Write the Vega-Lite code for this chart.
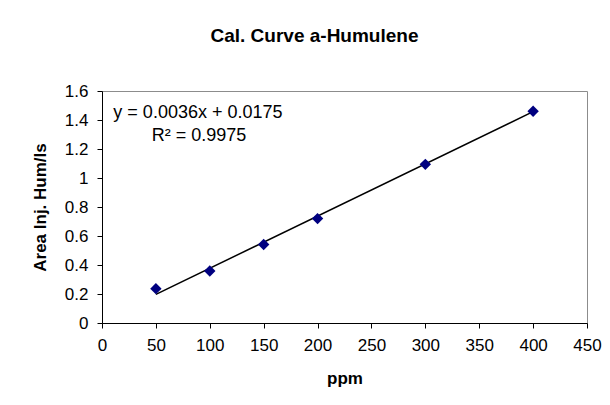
{
  "$schema": "https://vega.github.io/schema/vega-lite/v6.json",
  "width": 485,
  "height": 232,
  "autosize": {"type": "none"},
  "padding": {"left": 102, "top": 91, "right": 23, "bottom": 82},
  "background": "white",
  "title": {
    "text": "Cal. Curve a-Humulene",
    "font": "Liberation Sans",
    "fontSize": 19,
    "fontWeight": "bold",
    "color": "black",
    "anchor": "middle",
    "dx": -30,
    "offset": 36
  },
  "config": {
    "font": "Liberation Sans",
    "view": {"stroke": "#8c8c8c", "strokeWidth": 1},
    "axis": {
      "grid": false,
      "labelFont": "Liberation Sans",
      "labelFontSize": 17,
      "labelColor": "black",
      "labelOverlap": false,
      "titleFont": "Liberation Sans",
      "titleFontSize": 17,
      "titleFontWeight": "bold",
      "titleColor": "black",
      "domainColor": "black",
      "tickColor": "black",
      "tickSize": 5
    }
  },
  "layer": [
    {
      "data": {"values": [
        {"ppm": 50, "fit": 0.1975},
        {"ppm": 400, "fit": 1.4575}
      ]},
      "mark": {"type": "line", "color": "black", "strokeWidth": 1.5},
      "encoding": {
        "x": {
          "field": "ppm", "type": "quantitative",
          "scale": {"domain": [0, 450], "nice": false},
          "axis": {"values": [0, 50, 100, 150, 200, 250, 300, 350, 400, 450], "title": "ppm", "labelPadding": 9, "titlePadding": 17, "labelFlush": false}
        },
        "y": {
          "field": "fit", "type": "quantitative",
          "scale": {"domain": [0, 1.6], "nice": false},
          "axis": {"values": [0, 0.2, 0.4, 0.6, 0.8, 1, 1.2, 1.4, 1.6], "format": "~g", "title": "Area Inj. Hum/Is", "labelPadding": 9, "titlePadding": 15, "labelFlush": false}
        }
      }
    },
    {
      "data": {"values": [
        {"ppm": 50, "area": 0.237},
        {"ppm": 100, "area": 0.359},
        {"ppm": 150, "area": 0.541},
        {"ppm": 200, "area": 0.72},
        {"ppm": 300, "area": 1.094},
        {"ppm": 400, "area": 1.46}
      ]},
      "mark": {"type": "point", "shape": "diamond", "filled": true, "color": "#000080", "size": 130, "opacity": 1},
      "encoding": {
        "x": {
          "field": "ppm", "type": "quantitative",
          "axis": {"values": [0, 50, 100, 150, 200, 250, 300, 350, 400, 450], "title": "ppm", "labelPadding": 9, "titlePadding": 17, "labelFlush": false}
        },
        "y": {
          "field": "area", "type": "quantitative",
          "axis": {"values": [0, 0.2, 0.4, 0.6, 0.8, 1, 1.2, 1.4, 1.6], "format": "~g", "title": "Area Inj. Hum/Is", "labelPadding": 9, "titlePadding": 15, "labelFlush": false}
        }
      }
    },
    {
      "data": {"values": [{"label": "y = 0.0036x + 0.0175"}]},
      "mark": {"type": "text", "font": "Liberation Sans", "fontSize": 18, "color": "black", "align": "center", "baseline": "middle"},
      "encoding": {
        "x": {
          "datum": 89, "type": "quantitative",
          "axis": {"values": [0, 50, 100, 150, 200, 250, 300, 350, 400, 450], "title": "ppm", "labelPadding": 9, "titlePadding": 17, "labelFlush": false}
        },
        "y": {
          "datum": 1.446, "type": "quantitative",
          "axis": {"values": [0, 0.2, 0.4, 0.6, 0.8, 1, 1.2, 1.4, 1.6], "format": "~g", "title": "Area Inj. Hum/Is", "labelPadding": 9, "titlePadding": 15, "labelFlush": false}
        },
        "text": {"field": "label"}
      }
    },
    {
      "data": {"values": [{"label": "R² = 0.9975"}]},
      "mark": {"type": "text", "font": "Liberation Sans", "fontSize": 18, "color": "black", "align": "center", "baseline": "middle"},
      "encoding": {
        "x": {
          "datum": 90, "type": "quantitative",
          "axis": {"values": [0, 50, 100, 150, 200, 250, 300, 350, 400, 450], "title": "ppm", "labelPadding": 9, "titlePadding": 17, "labelFlush": false}
        },
        "y": {
          "datum": 1.288, "type": "quantitative",
          "axis": {"values": [0, 0.2, 0.4, 0.6, 0.8, 1, 1.2, 1.4, 1.6], "format": "~g", "title": "Area Inj. Hum/Is", "labelPadding": 9, "titlePadding": 15, "labelFlush": false}
        },
        "text": {"field": "label"}
      }
    }
  ]
}
